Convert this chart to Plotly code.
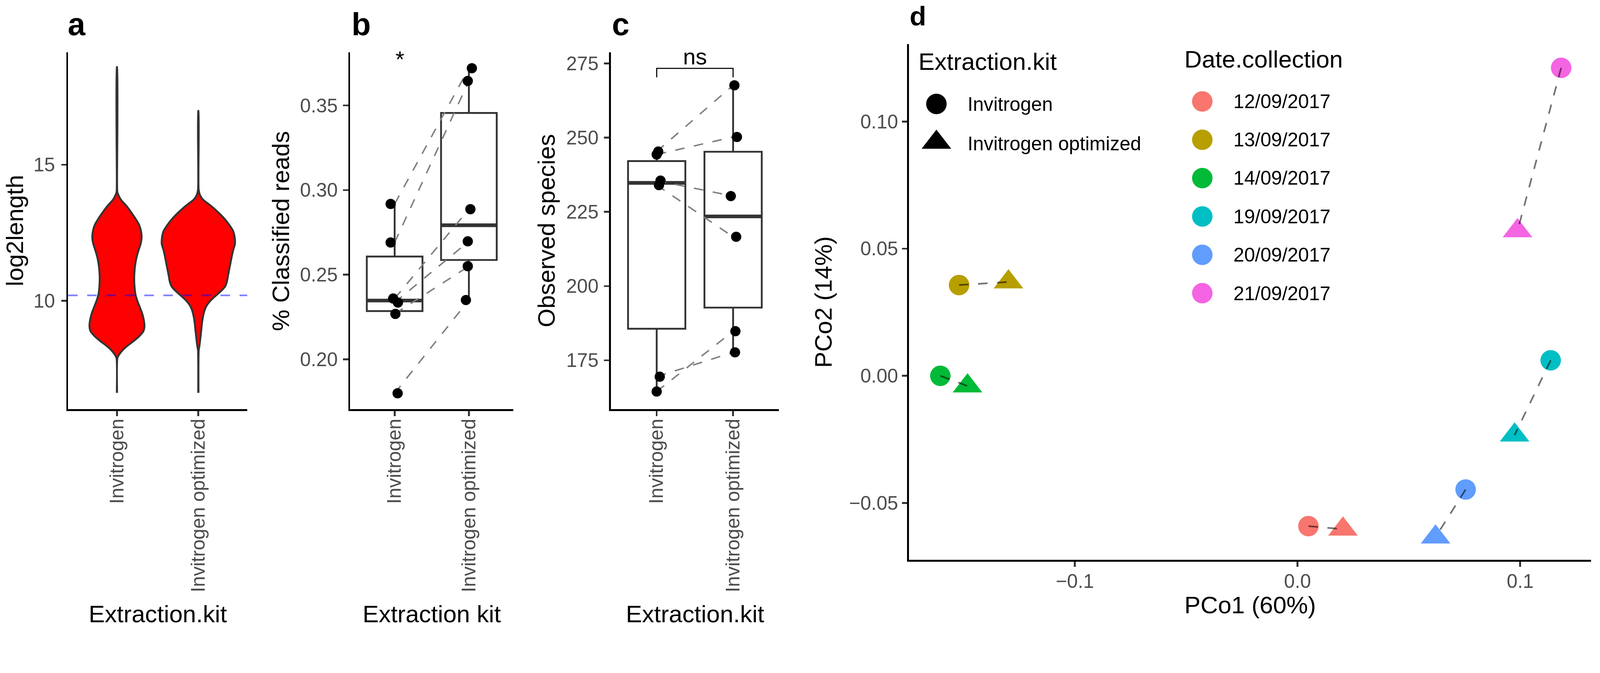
import numpy as np
import plotly.graph_objects as go

W, H = 4369, 1724
FONT = "Liberation Sans, Arial, Helvetica, sans-serif"

# ---------------- data ----------------
kits = ["Invitrogen", "Invitrogen optimized"]

# Panel a: violin outlines (log2length, half-width in category units)
viol_inv_y = [6.62, 7.90, 8.02, 8.19, 8.37, 8.54, 8.72, 8.89, 9.07, 9.30, 9.53, 9.77, 10.00,
              10.23, 10.46, 10.69, 10.93, 11.16, 11.39, 11.62, 11.86, 12.09, 12.32, 12.56,
              12.79, 13.02, 13.25, 13.49, 13.72, 13.98, 14.30, 18.59]
viol_inv_hw = [0.002, 0.006, 0.026, 0.071, 0.138, 0.213, 0.281, 0.326, 0.338, 0.330, 0.311,
               0.281, 0.251, 0.228, 0.218, 0.213, 0.213, 0.218, 0.228, 0.243, 0.266, 0.291,
               0.303, 0.296, 0.273, 0.228, 0.176, 0.116, 0.048, 0.006, 0.002, 0.002]
viol_opt_y = [6.62, 8.19, 8.37, 8.60, 8.89, 9.18, 9.41, 9.65, 9.82, 10.00, 10.17, 10.35,
              10.52, 10.69, 10.93, 11.16, 11.39, 11.62, 11.86, 12.09, 12.32, 12.56, 12.79,
              13.02, 13.25, 13.49, 13.72, 13.89, 14.10, 16.98]
viol_opt_hw = [0.002, 0.005, 0.015, 0.024, 0.035, 0.045, 0.057, 0.077, 0.102, 0.147, 0.207,
               0.275, 0.327, 0.350, 0.365, 0.380, 0.395, 0.410, 0.428, 0.450, 0.447, 0.428,
               0.380, 0.320, 0.245, 0.155, 0.057, 0.020, 0.004, 0.002]
a_ref_line = 10.2
a_yticks = [10, 15]

# Panel b: % classified reads, paired samples (same index = same sample)
b_inv = [0.2918, 0.2690, 0.2359, 0.2335, 0.2268, 0.1799]
b_opt = [0.3720, 0.3645, 0.2887, 0.2697, 0.2550, 0.2350]
b_inv_jit = [-0.054, -0.054, -0.020, 0.044, 0.010, 0.040]
b_opt_jit = [0.040, -0.015, 0.020, -0.015, -0.015, -0.040]
b_sig = "*"
b_sig_y = 0.3773
b_yticks = [0.20, 0.25, 0.30, 0.35]

# Panel c: observed species, paired samples
c_inv = [245.3, 244.3, 235.5, 234.0, 169.5, 164.5]
c_opt = [267.6, 250.2, 230.3, 216.6, 177.7, 184.8]
c_inv_jit = [0.020, 0.000, 0.050, 0.030, 0.040, 0.000]
c_opt_jit = [0.017, 0.050, -0.030, 0.040, 0.025, 0.030]
c_sig = "ns"
c_bracket_y = 273.3
c_bracket_tip = 270.3
c_sig_y = 277.3
c_yticks = [175, 200, 225, 250, 275]

# Panel d: PCoA
dates = ["12/09/2017", "13/09/2017", "14/09/2017", "19/09/2017", "20/09/2017", "21/09/2017"]
date_colors = ["#F8766D", "#B79F00", "#00BA38", "#00BFC4", "#619CFF", "#F564E3"]
pco1_inv = [0.0049, -0.1520, -0.1604, 0.1137, 0.0755, 0.1184]
pco2_inv = [-0.0591, 0.0357, 0.0000, 0.0061, -0.0447, 0.1211]
pco1_opt = [0.0204, -0.1298, -0.1482, 0.0975, 0.0620, 0.0988]
pco2_opt = [-0.0603, 0.0369, -0.0040, -0.0233, -0.0634, 0.0570]
d_xticks = [-0.1, 0.0, 0.1]
d_yticks = [-0.05, 0.0, 0.05, 0.10]


# ---------------- helpers ----------------
def px_x(p):
    return p / W


def px_y(p):
    return 1 - p / H


def box_stats(v):
    v = np.asarray(v, dtype=float)
    q1, med, q3 = np.percentile(v, [25, 50, 75])
    iqr = q3 - q1
    lo = v[v >= q1 - 1.5 * iqr].min()
    hi = v[v <= q3 + 1.5 * iqr].max()
    return q1, med, q3, lo, hi


fig = go.Figure()

# ---------------- panel a ----------------
for i, (yy, hw) in enumerate([(viol_inv_y, viol_inv_hw), (viol_opt_y, viol_opt_hw)]):
    yy = np.asarray(yy)
    hw = np.asarray(hw)
    xs = np.concatenate([i + hw, (i - hw)[::-1]])
    ys = np.concatenate([yy, yy[::-1]])
    fig.add_trace(go.Scatter(x=xs, y=ys, mode="lines", fill="toself", fillcolor="#FF0000",
                             line=dict(color="#333333", width=5, shape="spline", smoothing=0.6),
                             xaxis="x", yaxis="y", showlegend=False, hoverinfo="skip"))


# ---------------- panels b, c ----------------
def paired_panel(inv, opt, inv_jit, opt_jit, xa, ya):
    groups = [inv, opt]
    for i, vals in enumerate(groups):
        q1, med, q3, lo, hi = box_stats(vals)
        fig.add_trace(go.Box(x=[i], q1=[q1], median=[med], q3=[q3], lowerfence=[lo],
                             upperfence=[hi], width=0.75, whiskerwidth=0,
                             fillcolor="white", line=dict(color="#333333", width=5),
                             boxpoints=False, xaxis=xa, yaxis=ya, showlegend=False,
                             hoverinfo="skip"))
        fig.add_trace(go.Scatter(x=[i - 0.375, i + 0.375], y=[med, med], mode="lines",
                                 line=dict(color="#333333", width=10), xaxis=xa, yaxis=ya,
                                 showlegend=False, hoverinfo="skip"))
    for a, b in zip(inv, opt):
        fig.add_trace(go.Scatter(x=[0, 1], y=[a, b], mode="lines",
                                 line=dict(color="#808080", width=4, dash="26px,26px"),
                                 xaxis=xa, yaxis=ya, showlegend=False, hoverinfo="skip"))
    for i, (vals, jit) in enumerate([(inv, inv_jit), (opt, opt_jit)]):
        fig.add_trace(go.Scatter(x=[i + j for j in jit], y=vals, mode="markers",
                                 marker=dict(color="black", size=28),
                                 xaxis=xa, yaxis=ya, showlegend=False, hoverinfo="skip"))


paired_panel(b_inv, b_opt, b_inv_jit, b_opt_jit, "x2", "y2")
paired_panel(c_inv, c_opt, c_inv_jit, c_opt_jit, "x3", "y3")

# significance bracket in panel c
fig.add_trace(go.Scatter(x=[0, 0, 1, 1], y=[c_bracket_tip, c_bracket_y, c_bracket_y, c_bracket_tip],
                         mode="lines", line=dict(color="black", width=3),
                         xaxis="x3", yaxis="y3", showlegend=False, hoverinfo="skip"))

# ---------------- panel d ----------------
fig.add_trace(go.Scatter(x=pco1_inv, y=pco2_inv, mode="markers",
                         marker=dict(color=date_colors, size=56, symbol="circle"),
                         xaxis="x4", yaxis="y4", showlegend=False, hoverinfo="skip"))
fig.add_trace(go.Scatter(x=pco1_opt, y=pco2_opt, mode="markers",
                         marker=dict(color=date_colors, size=70, symbol="triangle-up"),
                         xaxis="x4", yaxis="y4", showlegend=False, hoverinfo="skip"))
for x0, y0, x1, y1 in zip(pco1_inv, pco2_inv, pco1_opt, pco2_opt):
    fig.add_trace(go.Scatter(x=[x0, x1], y=[y0, y1], mode="lines",
                             line=dict(color="rgba(0,0,0,0.55)", width=4.5, dash="26px,26px"),
                             xaxis="x4", yaxis="y4", showlegend=False, hoverinfo="skip"))

# ---------------- legends for panel d (drawn on a pixel overlay) ----------------
LEG_KIT_X = 2557
LEG_KIT_Y = [284, 389]
LEG_DATE_X = 3283
LEG_DATE_Y0, LEG_DATE_DY = 277, 104.8
fig.add_trace(go.Scatter(x=[LEG_KIT_X], y=[LEG_KIT_Y[0]], mode="markers",
                         marker=dict(color="black", size=56, symbol="circle"),
                         xaxis="x5", yaxis="y5", showlegend=False, hoverinfo="skip"))
fig.add_trace(go.Scatter(x=[LEG_KIT_X], y=[LEG_KIT_Y[1]], mode="markers",
                         marker=dict(color="black", size=70, symbol="triangle-up"),
                         xaxis="x5", yaxis="y5", showlegend=False, hoverinfo="skip"))
date_leg_y = [LEG_DATE_Y0 + k * LEG_DATE_DY for k in range(len(dates))]
fig.add_trace(go.Scatter(x=[LEG_DATE_X] * len(dates), y=date_leg_y, mode="markers",
                         marker=dict(color=date_colors, size=56, symbol="circle"),
                         xaxis="x5", yaxis="y5", showlegend=False, hoverinfo="skip"))

# ---------------- axes ----------------
A_X = (186, 675)
B_X = (956, 1402)
C_X = (1668, 2127)
D_X = (2482, 4345)
ABC_Y = (143, 1118)
D_Y = (120, 1530)


def dom_x(p):
    return [px_x(p[0]), px_x(p[1])]


def dom_y(p):
    return [px_y(p[1]), px_y(p[0])]


base_axis = dict(showline=True, linecolor="black", linewidth=5, ticks="outside", ticklen=14,
                 tickwidth=4.5, tickcolor="#333333",
                 tickfont=dict(size=53, color="#4D4D4D", family=FONT),
                 showgrid=False, zeroline=False, fixedrange=True)

cat_x = dict(base_axis, range=[-0.6, 1.6], tickmode="array", tickvals=[0, 1], ticktext=kits,
             tickangle=-90, ticklabelstandoff=-14)

layout_axes = dict(
    xaxis=dict(cat_x, domain=dom_x(A_X), anchor="y"),
    yaxis=dict(base_axis, domain=dom_y(ABC_Y), anchor="x", range=[6.02, 19.13],
               tickmode="array", tickvals=a_yticks, ticklabelstandoff=6),
    xaxis2=dict(cat_x, domain=dom_x(B_X), anchor="y2"),
    yaxis2=dict(base_axis, domain=dom_y(ABC_Y), anchor="x2", range=[0.1705, 0.3814],
                tickmode="array", tickvals=b_yticks, tickformat=".2f", ticklabelstandoff=4),
    xaxis3=dict(cat_x, domain=dom_x(C_X), anchor="y3"),
    yaxis3=dict(base_axis, domain=dom_y(ABC_Y), anchor="x3", range=[158.56, 278.7],
                tickmode="array", tickvals=c_yticks, ticklabelstandoff=4),
    xaxis4=dict(base_axis, domain=dom_x(D_X), anchor="y4", range=[-0.1745, 0.1319],
                tickmode="array", tickvals=d_xticks, tickformat=".1f", ticklabelstandoff=-6),
    yaxis4=dict(base_axis, domain=dom_y(D_Y), anchor="x4", range=[-0.0724, 0.1305],
                tickmode="array", tickvals=d_yticks, tickformat=".2f", ticklabelstandoff=0),
    xaxis5=dict(domain=[0, 1], range=[0, W], visible=False, fixedrange=True, anchor="y5"),
    yaxis5=dict(domain=[0, 1], range=[H, 0], visible=False, fixedrange=True, anchor="x5"),
)

# ---------------- text ----------------
annotations = []


def ann(text, x, y, size, color="black", xanchor="center", angle=0):
    annotations.append(dict(text=text, x=px_x(x), y=px_y(y), xref="paper", yref="paper",
                            showarrow=False, xanchor=xanchor, yanchor="middle",
                            textangle=angle, font=dict(size=size, color=color, family=FONT)))


# panel letters
ann("<b>a</b>", 183, 66, 86, xanchor="left")
ann("<b>b</b>", 958, 66, 86, xanchor="left")
ann("<b>c</b>", 1669, 66, 86, xanchor="left")
ann("<b>d</b>", 2482, 44, 74, xanchor="left")

# axis titles
ann("Extraction.kit", sum(A_X) / 2, 1677, 66)
ann("Extraction kit", sum(B_X) / 2, 1677, 66)
ann("Extraction.kit", sum(C_X) / 2, 1677, 66)
ann("PCo1 (60%)", sum(D_X) / 2, 1653, 66)
ann("log2length", 40, sum(ABC_Y) / 2, 66, angle=-90)
ann("% Classified reads", 767, sum(ABC_Y) / 2, 66, angle=-90)
ann("Observed species", 1492, sum(ABC_Y) / 2, 66, angle=-90)
ann("PCo2 (14%)", 2248, sum(D_Y) / 2, 66, angle=-90)

# legend texts
ann("Extraction.kit", 2506, 168, 66, xanchor="left")
ann("Invitrogen", 2640, LEG_KIT_Y[0], 53, xanchor="left")
ann("Invitrogen optimized", 2640, LEG_KIT_Y[1] + 3, 53, xanchor="left")
ann("Date.collection", 3232, 162, 66, xanchor="left")
for d, yy in zip(dates, date_leg_y):
    ann(d, 3366, yy, 53, xanchor="left")

# significance labels in data coordinates
annotations.append(dict(text=b_sig, x=0, y=b_sig_y, xref="x2", yref="y2", showarrow=False,
                        xanchor="left", yanchor="middle",
                        font=dict(size=62, color="black", family=FONT)))
annotations.append(dict(text=c_sig, x=0.5, y=c_sig_y, xref="x3", yref="y3", showarrow=False,
                        xanchor="center", yanchor="middle",
                        font=dict(size=62, color="black", family=FONT)))

# reference line in panel a
shapes = [dict(type="line", xref="x domain", yref="y", x0=0, x1=1, y0=a_ref_line, y1=a_ref_line,
               line=dict(color="rgba(0,0,255,0.5)", width=4.5, dash="26px,26px"), layer="above")]

fig.update_layout(width=W, height=H, autosize=False, margin=dict(l=0, r=0, t=0, b=0),
                  paper_bgcolor="white", plot_bgcolor="rgba(0,0,0,0)",
                  font=dict(family=FONT, color="black"), showlegend=False,
                  annotations=annotations, shapes=shapes, **layout_axes)

post = """
document.documentElement.style.margin='0';
document.body.style.margin='0';
document.body.style.overflow='hidden';
var gd = document.getElementById('{plot_id}');
var s = Math.min(window.innerWidth / %d, window.innerHeight / %d);
gd.style.transformOrigin = '0 0';
gd.style.transform = 'scale(' + s + ')';
""" % (W, H)

fig.write_html("out.html", config={"displayModeBar": False}, post_script=post)
